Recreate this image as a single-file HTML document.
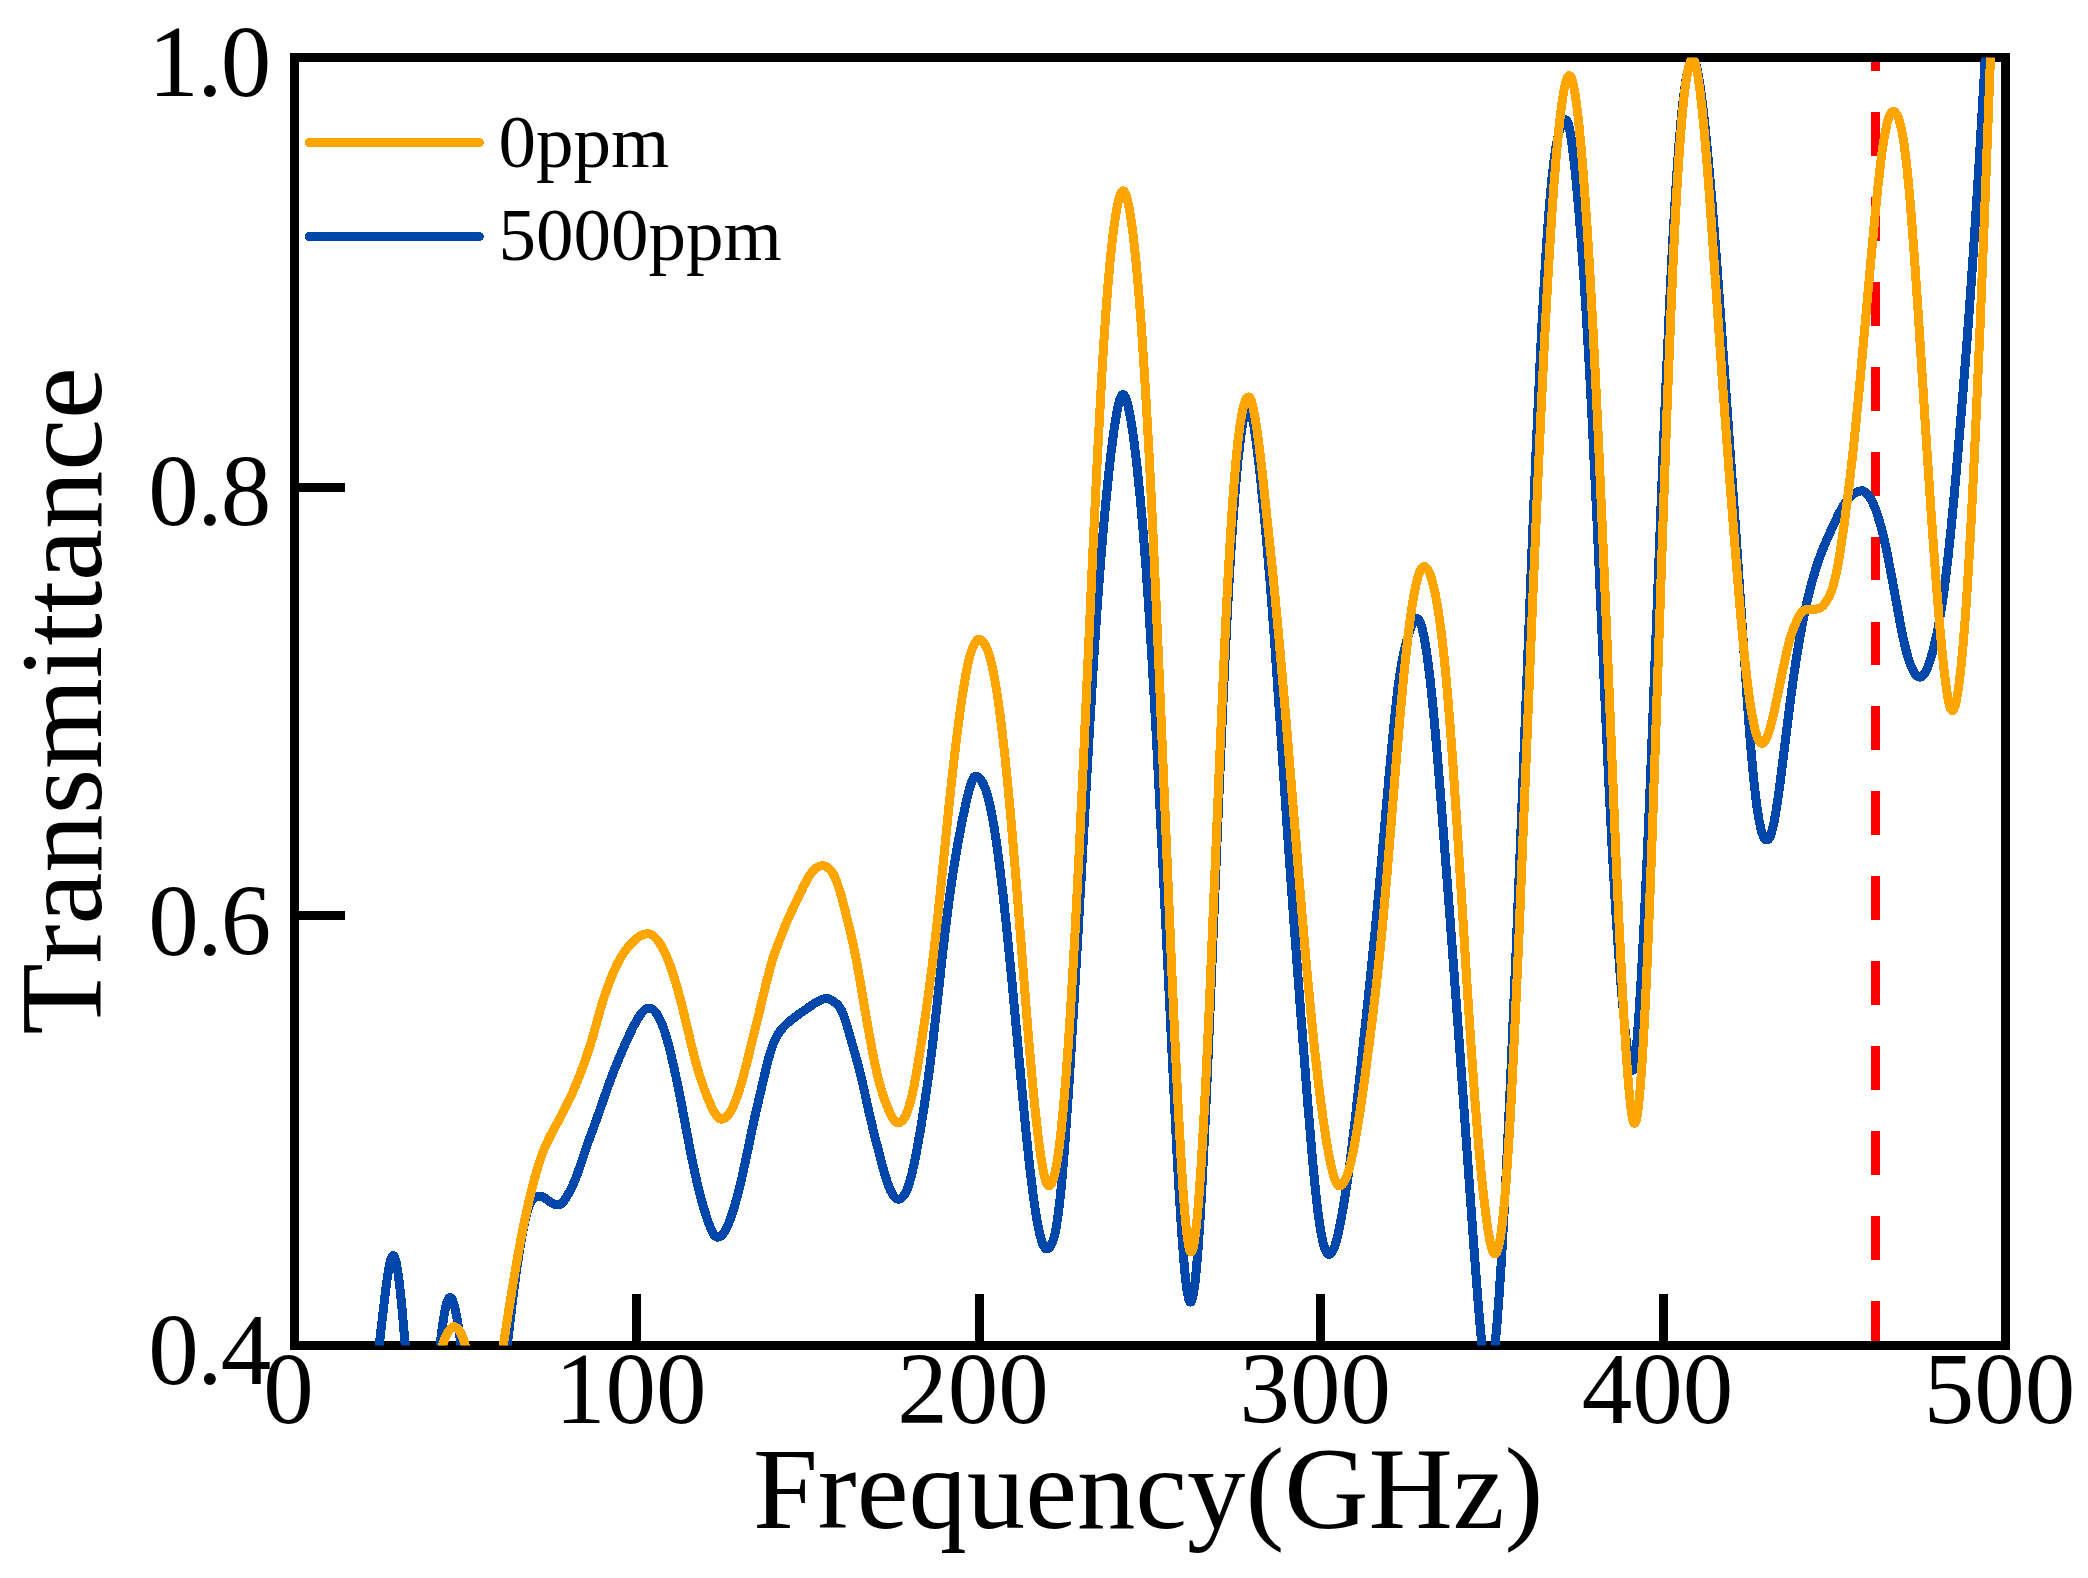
<!DOCTYPE html>
<html lang="en"><head><meta charset="utf-8"><title>Transmittance vs Frequency</title>
<style>html,body{margin:0;padding:0;background:#fff;}body{width:2088px;height:1578px;overflow:hidden;}svg{display:block;}text{font-family:"Liberation Serif","Times New Roman",serif;fill:#000;font-kerning:none;}</style></head><body>
<svg width="2088" height="1578" viewBox="0 0 2088 1578">
<rect x="0" y="0" width="2088" height="1578" fill="#ffffff"/>
<defs><clipPath id="axclip"><rect x="294.5" y="57.5" width="1711.0" height="1288.0"/></clipPath></defs>
<line x1="1875.6" y1="1345" x2="1875.6" y2="27.5" stroke="#ff0000" stroke-width="9" stroke-dasharray="43.9 41.05" shape-rendering="crispEdges" clip-path="url(#axclip)"/>
<rect x="294.5" y="57.5" width="1711.0" height="1288.0" fill="none" stroke="#000" stroke-width="9" shape-rendering="crispEdges"/>
<g stroke="#000" stroke-width="9" shape-rendering="crispEdges">
<line x1="636.5" y1="1345.5" x2="636.5" y2="1294"/>
<line x1="979.5" y1="1345.5" x2="979.5" y2="1294"/>
<line x1="1320.5" y1="1345.5" x2="1320.5" y2="1294"/>
<line x1="1663.5" y1="1345.5" x2="1663.5" y2="1294"/>
<line x1="294.5" y1="915.5" x2="345" y2="915.5"/>
<line x1="294.5" y1="487.5" x2="345" y2="487.5"/>
</g>
<g clip-path="url(#axclip)" fill="none" stroke-linejoin="round" shape-rendering="crispEdges">
<polyline stroke="#0047ab" stroke-width="9" points="370.0,1421.1 377.0,1364.3 384.6,1298.8 387.0,1280.0 388.8,1268.5 390.4,1261.0 391.2,1258.4 392.0,1256.6 392.8,1255.7 393.4,1255.6 394.0,1256.1 394.8,1257.6 395.4,1259.4 396.2,1262.5 397.6,1270.1 399.0,1280.2 400.4,1292.4 402.0,1308.4 409.2,1390.1 411.0,1409.0 412.6,1424.2 414.6,1440.6 416.4,1452.6 418.2,1461.6 419.2,1465.3 420.0,1467.5 421.0,1469.3 421.8,1469.9 422.2,1469.9 422.6,1469.7 423.0,1469.4 423.6,1468.5 424.6,1466.2 425.6,1462.8 426.6,1458.5 427.6,1453.3 429.6,1440.5 431.8,1423.3 434.0,1403.5 439.8,1348.0 441.4,1334.3 443.0,1322.3 444.8,1311.3 445.8,1306.5 446.6,1303.4 447.4,1301.0 448.2,1299.1 449.0,1298.0 449.4,1297.7 450.0,1297.5 450.8,1297.8 451.8,1299.0 452.6,1300.5 453.6,1303.2 455.4,1310.1 457.4,1320.6 459.0,1330.9 460.6,1342.4 467.0,1393.5 469.8,1414.3 472.8,1433.6 474.4,1442.6 475.8,1449.5 477.2,1455.5 478.6,1460.6 480.0,1464.6 481.4,1467.6 482.2,1468.8 482.8,1469.4 483.4,1469.8 484.0,1470.0 484.6,1470.0 485.4,1469.6 486.0,1469.1 486.8,1468.1 488.0,1465.8 489.2,1462.8 490.4,1459.0 491.6,1454.5 494.0,1443.4 496.6,1428.6 499.0,1412.6 501.6,1393.1 504.4,1370.1 512.1,1304.1 514.6,1284.4 517.2,1265.6 520.3,1245.5 523.2,1229.3 524.6,1222.6 526.0,1216.6 527.2,1212.1 528.6,1207.7 529.6,1205.1 530.6,1202.9 531.6,1201.1 532.6,1199.8 533.6,1198.7 534.8,1197.8 536.2,1197.1 538.4,1196.3 539.4,1196.1 540.2,1196.1 541.2,1196.2 542.4,1196.7 544.4,1197.8 549.6,1201.6 552.4,1203.4 554.0,1204.1 555.4,1204.6 556.8,1204.9 558.0,1205.0 559.2,1204.9 560.2,1204.5 561.2,1203.9 562.2,1203.0 564.4,1200.3 567.2,1195.9 569.8,1191.3 572.2,1186.5 574.4,1181.6 576.4,1176.6 579.6,1167.6 587.8,1143.2 596.2,1120.4 608.8,1084.4 614.2,1070.1 620.4,1055.0 625.0,1044.4 629.4,1034.8 633.4,1026.6 636.6,1020.6 639.4,1016.0 642.0,1012.5 644.4,1010.1 645.6,1009.2 646.8,1008.6 648.0,1008.2 649.2,1008.1 650.4,1008.3 651.6,1008.7 652.8,1009.4 654.0,1010.4 655.2,1011.6 656.4,1013.2 658.8,1017.1 661.2,1022.2 663.6,1028.4 666.0,1035.8 668.2,1043.6 670.6,1053.1 673.4,1065.1 676.4,1078.8 681.2,1102.5 688.2,1139.8 691.8,1158.2 695.2,1174.4 698.6,1189.0 701.0,1198.3 703.4,1206.9 705.8,1214.7 708.4,1222.4 710.6,1228.2 712.4,1232.1 714.0,1234.8 714.8,1235.8 715.6,1236.5 716.6,1237.0 717.8,1237.2 719.0,1237.0 720.0,1236.6 721.0,1236.0 722.2,1234.8 723.2,1233.7 724.4,1231.9 726.6,1228.0 729.0,1222.6 731.4,1216.1 734.0,1208.0 737.8,1194.4 741.8,1178.0 745.0,1163.5 754.2,1119.5 766.2,1067.9 768.6,1058.4 770.6,1051.5 772.6,1045.6 774.6,1040.7 776.0,1037.8 777.4,1035.3 779.0,1032.8 780.6,1030.5 782.6,1028.1 784.8,1025.7 787.0,1023.5 789.4,1021.4 795.8,1016.4 814.4,1003.4 817.2,1001.7 819.8,1000.4 822.2,999.4 824.4,998.8 826.0,998.6 827.2,998.5 828.4,998.7 829.6,999.1 832.2,1000.5 836.2,1003.5 838.2,1005.4 840.0,1007.8 841.6,1010.6 843.2,1014.3 845.2,1019.9 847.6,1027.7 855.8,1056.6 859.0,1068.4 862.4,1082.2 869.6,1114.7 874.4,1134.9 882.0,1164.3 884.6,1173.6 886.8,1180.7 888.8,1186.4 890.8,1191.1 892.8,1194.8 893.8,1196.3 894.8,1197.4 895.8,1198.3 896.6,1198.8 897.6,1199.1 898.6,1199.2 899.6,1199.0 900.8,1198.4 901.8,1197.7 902.8,1196.8 904.0,1195.3 905.2,1193.4 906.4,1191.1 907.6,1188.2 909.8,1181.7 912.2,1172.5 914.8,1160.6 917.6,1146.0 920.6,1128.8 923.8,1108.9 928.0,1080.3 931.8,1051.0 935.0,1023.2 943.0,950.0 947.4,913.1 949.6,896.4 951.8,880.9 954.2,865.2 956.6,850.7 959.4,835.2 962.4,819.9 966.0,802.9 968.6,791.9 970.6,784.9 972.4,780.1 973.2,778.5 974.0,777.3 974.8,776.6 975.6,776.3 976.2,776.2 976.8,776.3 978.0,776.9 979.4,778.1 980.8,779.7 982.2,781.9 983.4,784.2 984.6,786.9 985.8,790.1 988.0,797.3 990.2,806.3 992.4,817.3 994.6,830.2 997.2,847.8 1000.0,869.2 1003.0,894.4 1006.0,921.9 1012.0,982.0 1022.2,1092.1 1025.8,1129.7 1029.6,1165.9 1033.2,1195.4 1035.4,1210.8 1037.6,1223.8 1039.8,1234.2 1041.8,1241.4 1042.8,1244.2 1043.8,1246.3 1044.8,1247.8 1045.8,1248.7 1046.8,1249.0 1047.8,1248.7 1049.0,1247.8 1050.2,1246.5 1051.4,1244.6 1052.4,1242.4 1053.4,1239.5 1054.2,1236.8 1056.0,1228.5 1057.8,1217.3 1059.6,1202.9 1061.4,1185.5 1063.2,1165.1 1065.2,1139.5 1069.0,1084.1 1074.0,1002.9 1078.4,926.9 1088.2,752.0 1092.8,674.3 1095.2,636.6 1097.6,601.5 1099.8,571.9 1102.2,542.4 1105.2,508.9 1108.2,478.6 1111.0,453.3 1113.8,431.5 1116.4,414.8 1117.6,408.5 1118.8,403.1 1120.0,399.0 1121.0,396.5 1122.0,395.0 1122.4,394.7 1123.0,394.5 1123.6,394.7 1124.2,395.2 1124.8,396.1 1125.6,397.7 1126.8,401.1 1128.2,406.4 1129.6,413.0 1131.0,420.9 1132.4,429.8 1134.0,441.3 1137.0,466.4 1140.2,498.0 1143.2,532.1 1146.2,570.7 1148.8,608.4 1151.4,649.9 1154.2,698.1 1157.0,749.4 1163.4,875.2 1175.2,1118.2 1177.4,1160.8 1179.4,1196.5 1182.0,1237.2 1184.4,1267.4 1185.6,1279.4 1186.8,1289.1 1188.0,1296.1 1189.0,1300.0 1189.8,1301.6 1190.2,1302.0 1190.5,1302.1 1190.8,1302.0 1191.2,1301.6 1192.0,1299.9 1192.6,1297.7 1193.4,1293.9 1194.2,1288.8 1195.0,1282.6 1196.4,1269.0 1198.0,1249.6 1199.6,1226.4 1201.4,1196.5 1204.4,1138.7 1207.6,1068.9 1219.0,794.1 1223.4,693.6 1225.6,647.4 1227.8,604.7 1229.8,569.4 1231.8,537.5 1233.8,509.1 1236.0,481.7 1238.2,458.4 1240.4,439.2 1242.4,425.5 1243.4,420.0 1244.4,415.6 1245.4,412.1 1246.4,409.7 1247.4,408.3 1248.0,408.0 1248.4,408.1 1249.0,408.5 1249.4,409.0 1250.2,410.5 1251.0,412.8 1252.0,416.5 1253.0,421.3 1254.0,426.9 1256.0,440.2 1258.4,459.5 1261.0,483.1 1264.0,513.0 1266.8,543.1 1270.6,588.3 1274.4,639.1 1277.8,688.2 1287.0,825.5 1292.6,904.6 1300.8,1013.9 1307.8,1103.8 1312.4,1158.4 1314.4,1179.7 1316.2,1197.0 1318.0,1212.4 1319.6,1224.0 1321.2,1233.8 1323.0,1242.3 1324.2,1246.7 1325.4,1250.0 1326.6,1252.4 1327.2,1253.2 1328.0,1253.9 1328.6,1254.2 1329.4,1254.3 1330.2,1254.1 1330.8,1253.6 1331.4,1253.0 1332.2,1251.9 1333.6,1249.1 1335.0,1245.4 1336.4,1240.7 1337.8,1235.1 1339.2,1228.8 1342.8,1209.8 1346.4,1187.8 1348.6,1172.7 1350.6,1157.9 1354.8,1122.9 1360.8,1068.2 1371.2,969.7 1375.4,927.9 1379.4,885.8 1389.2,774.7 1392.2,742.0 1395.2,712.1 1398.0,687.8 1400.0,673.2 1402.2,660.1 1404.6,648.8 1407.2,639.0 1409.0,633.1 1410.6,628.4 1412.0,624.9 1413.4,622.0 1414.8,619.9 1416.0,618.8 1416.6,618.5 1417.2,618.5 1418.2,618.9 1419.2,620.1 1420.0,621.6 1420.8,623.7 1421.8,626.9 1423.8,635.6 1425.8,646.8 1427.8,660.5 1429.8,676.6 1431.8,695.1 1434.0,717.6 1436.8,749.2 1440.2,790.5 1449.6,912.7 1460.2,1055.5 1474.0,1248.5 1478.8,1310.9 1481.8,1344.3 1483.2,1357.3 1484.4,1366.7 1485.6,1374.1 1486.8,1379.2 1487.4,1380.8 1488.0,1381.7 1488.4,1381.9 1489.0,1381.7 1489.8,1380.4 1490.8,1377.1 1491.6,1373.2 1492.6,1367.0 1494.6,1350.2 1496.8,1326.2 1499.0,1297.2 1501.2,1263.6 1503.6,1222.3 1506.0,1176.5 1510.6,1078.8 1516.0,953.0 1521.2,824.2 1531.5,561.6 1535.8,457.0 1540.0,363.9 1542.0,323.7 1544.0,286.9 1546.0,253.6 1548.0,224.3 1550.0,198.9 1552.0,177.6 1554.0,160.3 1556.2,145.5 1557.2,140.1 1558.4,134.7 1559.4,130.9 1560.6,127.1 1562.0,123.8 1563.4,121.5 1564.2,120.6 1565.0,120.0 1565.6,119.8 1566.2,119.9 1566.8,120.5 1567.2,121.2 1568.2,123.7 1569.2,127.5 1570.2,132.5 1571.4,139.9 1572.6,148.7 1575.4,173.6 1578.4,205.5 1581.2,240.1 1583.8,276.6 1586.6,320.4 1589.2,365.2 1592.0,417.7 1597.0,521.1 1605.4,709.5 1608.6,778.5 1612.0,845.8 1615.4,905.2 1617.6,939.2 1620.0,972.4 1622.4,1001.8 1624.6,1025.1 1626.8,1044.8 1628.8,1059.0 1629.8,1064.4 1630.6,1067.7 1631.4,1069.9 1631.8,1070.4 1632.2,1070.6 1632.6,1070.4 1632.8,1070.1 1633.4,1068.6 1634.0,1066.1 1634.6,1062.7 1636.0,1051.2 1637.4,1035.6 1639.0,1013.7 1640.6,988.4 1642.4,956.4 1644.2,921.1 1647.4,851.6 1650.8,770.6 1661.4,496.2 1665.4,397.4 1669.6,303.2 1671.6,262.8 1673.6,225.6 1675.6,192.0 1677.4,164.9 1679.2,141.1 1681.2,118.4 1683.2,99.5 1685.2,84.5 1687.2,73.0 1688.2,68.6 1689.2,65.1 1690.2,62.4 1691.2,60.6 1691.8,59.9 1692.2,59.7 1692.8,59.5 1693.2,59.7 1694.0,60.4 1695.0,62.2 1696.0,65.0 1697.0,68.8 1698.0,73.4 1699.0,78.8 1701.2,93.5 1703.4,111.3 1705.8,133.8 1708.6,163.1 1711.4,195.1 1714.4,232.0 1717.4,271.4 1736.2,537.4 1747.4,702.4 1749.6,732.3 1751.6,756.8 1753.6,778.2 1755.4,794.9 1757.2,808.8 1759.2,821.1 1761.0,829.4 1762.0,832.9 1763.0,835.6 1764.0,837.7 1765.0,839.1 1766.0,839.8 1766.6,840.0 1767.2,840.0 1768.2,839.5 1769.2,838.3 1770.2,836.3 1771.4,833.0 1772.4,829.4 1773.6,824.3 1775.8,812.5 1777.8,799.6 1780.0,783.7 1790.0,703.5 1792.6,683.9 1795.0,667.3 1798.2,647.1 1801.4,629.0 1804.8,611.8 1808.2,596.6 1811.8,582.5 1815.6,569.4 1819.4,558.1 1823.6,547.2 1826.4,540.6 1830.0,532.6 1835.4,520.9 1839.0,513.5 1841.4,509.0 1843.8,505.0 1846.0,501.7 1848.4,498.7 1850.2,496.8 1852.2,495.0 1854.2,493.6 1856.2,492.4 1858.4,491.5 1860.6,490.9 1862.2,490.8 1863.6,491.2 1865.2,492.1 1866.6,493.3 1868.2,495.0 1869.6,497.0 1871.2,499.6 1872.6,502.4 1874.2,506.0 1875.6,509.5 1878.2,517.1 1880.8,526.0 1883.2,535.4 1885.8,546.8 1890.6,570.9 1900.4,624.3 1902.6,635.3 1904.6,644.4 1906.8,653.2 1909.0,660.6 1911.2,666.6 1913.4,671.2 1914.6,673.2 1915.8,674.8 1917.0,675.9 1918.4,676.8 1919.6,677.1 1920.8,677.0 1922.0,676.4 1923.2,675.4 1924.4,673.8 1925.6,671.8 1926.8,669.4 1928.0,666.5 1930.4,659.6 1933.0,650.5 1936.4,636.2 1939.4,620.9 1942.2,603.8 1945.0,583.4 1948.0,557.7 1951.4,525.1 1954.4,493.3 1958.0,452.1 1962.4,399.6 1966.2,351.8 1969.6,306.2 1973.0,257.5 1976.4,205.7 1980.0,147.8 1989.0,-6.1"/>
<polyline stroke="#ffa500" stroke-width="9" points="420.0,1469.1 426.2,1428.4 430.6,1401.3 434.6,1379.1 438.2,1361.8 440.0,1354.3 441.6,1348.4 443.2,1343.2 445.0,1338.3 446.8,1334.3 448.6,1331.2 450.4,1328.9 452.2,1327.3 453.6,1326.7 454.2,1326.7 455.0,1326.9 456.0,1327.4 457.0,1328.1 458.8,1329.9 460.4,1332.3 461.8,1335.0 463.2,1338.6 464.4,1342.3 466.4,1350.1 468.4,1359.9 475.0,1398.4 477.2,1410.3 479.2,1419.3 481.0,1425.4 482.0,1427.8 482.8,1429.1 483.6,1429.9 484.6,1430.3 485.6,1430.0 486.4,1429.3 487.4,1427.7 488.4,1425.6 490.0,1420.8 491.8,1413.9 493.8,1404.5 495.8,1393.6 498.8,1375.2 506.6,1324.1 511.8,1291.3 516.4,1263.8 520.6,1240.7 524.8,1219.8 529.2,1200.0 533.8,1181.4 537.9,1166.8 540.0,1160.3 542.0,1154.7 544.2,1149.0 546.6,1143.5 550.0,1136.5 561.4,1115.4 567.6,1103.2 570.8,1096.5 574.0,1089.3 580.0,1074.7 585.2,1060.6 590.0,1046.0 593.6,1033.9 600.8,1008.0 604.2,997.0 609.2,982.9 611.6,976.7 614.0,970.9 616.6,965.3 619.2,960.3 622.0,955.6 624.8,951.4 628.0,947.3 631.6,943.1 634.8,940.0 638.0,937.4 640.0,936.0 641.8,935.1 643.8,934.3 645.6,933.9 647.2,933.7 648.8,933.8 650.2,934.2 651.8,935.0 653.4,936.0 655.0,937.4 656.6,939.0 658.2,941.0 659.8,943.3 661.4,945.9 664.8,952.4 667.8,959.3 670.8,967.3 673.8,976.3 676.8,986.3 679.6,996.4 682.4,1007.3 691.8,1046.6 695.4,1060.9 698.8,1072.9 703.0,1085.6 706.4,1094.7 709.8,1103.0 712.8,1109.5 715.2,1113.8 717.4,1116.8 718.4,1117.8 719.4,1118.5 720.4,1119.0 721.4,1119.1 722.6,1119.1 723.8,1118.8 725.6,1117.7 727.4,1116.0 729.2,1113.7 731.2,1110.3 733.2,1106.3 735.2,1101.6 737.2,1096.3 739.4,1089.7 742.8,1078.3 746.6,1063.8 756.8,1022.5 766.2,983.2 770.6,966.3 773.0,958.2 775.6,950.5 785.4,925.2 790.2,914.3 803.8,885.8 807.4,879.0 809.2,876.0 810.8,873.7 813.0,871.0 815.2,868.8 817.4,867.1 819.4,866.2 821.4,865.7 823.4,865.7 825.6,866.4 827.8,867.6 829.2,868.7 830.4,869.9 831.6,871.4 832.8,873.2 835.0,877.4 837.2,882.9 839.4,889.5 842.0,898.5 845.0,910.0 849.0,926.1 853.2,944.4 856.6,961.4 859.6,978.2 867.8,1026.5 873.0,1054.4 875.2,1065.1 877.4,1074.9 879.4,1082.8 881.6,1090.5 884.8,1100.2 888.2,1108.8 891.4,1115.7 892.8,1118.2 894.2,1120.2 895.4,1121.4 896.6,1122.3 897.6,1122.7 898.8,1122.7 900.0,1122.3 901.4,1121.4 902.6,1120.3 903.8,1118.7 905.2,1116.4 906.4,1113.8 907.8,1110.3 909.0,1106.7 911.6,1097.1 914.2,1085.2 916.8,1071.1 920.0,1051.6 924.2,1023.9 928.2,996.0 932.4,964.0 936.4,929.4 940.4,891.4 948.8,807.6 953.4,765.2 956.0,743.1 958.4,724.1 960.8,706.4 963.0,691.4 965.0,679.2 966.8,669.5 968.6,661.2 970.4,654.3 972.2,648.8 974.2,644.2 975.2,642.5 976.2,641.1 977.2,640.1 978.2,639.5 978.8,639.4 979.5,639.3 980.8,639.8 982.4,641.0 984.0,643.0 985.4,645.3 986.8,648.3 988.2,651.9 989.4,655.6 990.8,660.7 992.0,665.6 994.4,677.4 996.8,691.6 999.4,709.6 1002.0,730.2 1004.8,755.1 1007.6,782.7 1010.4,812.7 1016.2,881.1 1025.6,1001.0 1029.0,1042.9 1032.8,1085.8 1036.2,1119.5 1038.4,1138.5 1040.4,1153.5 1042.4,1166.2 1044.4,1176.2 1045.4,1180.0 1046.2,1182.4 1047.0,1184.2 1047.8,1185.4 1048.6,1185.9 1049.0,1186.0 1049.6,1185.9 1050.4,1185.2 1051.4,1183.8 1052.6,1181.1 1053.8,1177.4 1055.0,1172.6 1056.2,1166.8 1057.4,1159.8 1058.6,1151.6 1060.8,1133.6 1063.2,1109.5 1065.6,1081.3 1068.0,1048.9 1070.6,1009.6 1074.8,937.2 1079.2,851.0 1083.4,761.4 1093.0,548.5 1097.6,452.9 1101.8,375.5 1103.8,342.9 1105.8,313.5 1108.0,284.8 1110.0,262.3 1112.2,241.2 1114.4,223.8 1116.6,209.9 1117.8,203.7 1118.8,199.4 1120.0,195.4 1121.0,192.9 1122.0,191.4 1122.6,190.9 1123.0,190.8 1123.6,190.9 1124.2,191.4 1124.8,192.2 1125.4,193.4 1126.6,196.7 1128.0,202.1 1129.2,208.1 1130.6,216.4 1132.0,226.1 1133.4,237.2 1136.0,261.5 1138.8,293.0 1141.6,330.0 1144.2,369.9 1146.6,409.1 1149.0,452.8 1151.4,500.2 1153.8,550.8 1158.6,659.5 1171.4,962.1 1175.0,1041.9 1178.2,1107.4 1181.4,1164.9 1183.0,1189.6 1184.4,1208.4 1185.8,1224.2 1187.0,1235.1 1188.4,1244.6 1189.0,1247.5 1189.6,1249.7 1190.4,1251.5 1191.0,1252.0 1191.4,1251.9 1191.8,1251.5 1192.6,1249.7 1193.4,1246.7 1194.2,1242.5 1195.8,1230.9 1197.4,1215.2 1199.2,1193.2 1201.0,1167.2 1202.8,1137.7 1205.8,1081.3 1209.2,1008.4 1220.4,741.1 1224.6,646.4 1226.6,605.1 1228.6,567.2 1230.4,536.2 1232.2,508.4 1234.0,483.9 1236.0,460.4 1238.0,440.8 1240.0,425.1 1242.0,413.1 1243.0,408.5 1244.0,404.7 1245.0,401.7 1246.2,399.0 1246.8,398.1 1247.4,397.4 1248.0,397.1 1248.4,397.0 1249.2,397.3 1250.0,398.2 1250.6,399.3 1251.4,401.2 1253.0,407.0 1254.8,415.9 1256.6,427.1 1258.4,440.2 1260.4,456.5 1262.8,477.7 1272.2,567.3 1275.8,604.3 1279.4,643.3 1286.8,728.8 1298.8,875.4 1303.4,930.2 1308.2,984.2 1312.4,1027.8 1315.2,1054.5 1318.0,1079.2 1320.8,1101.9 1323.4,1121.1 1326.2,1139.5 1328.8,1154.5 1331.2,1166.2 1333.6,1175.7 1335.2,1180.6 1336.6,1183.6 1337.2,1184.5 1338.0,1185.4 1338.6,1185.8 1339.3,1186.0 1340.2,1185.9 1341.0,1185.5 1342.0,1184.7 1342.8,1183.9 1344.6,1181.2 1346.4,1177.3 1348.0,1172.8 1349.6,1167.3 1351.2,1160.8 1352.8,1153.4 1354.6,1144.1 1356.6,1132.8 1360.4,1109.0 1365.4,1073.5 1371.2,1028.4 1376.2,986.6 1380.2,949.4 1383.2,918.1 1386.6,879.5 1396.8,754.5 1400.6,710.0 1404.4,669.5 1408.0,636.3 1410.2,618.9 1412.4,603.9 1414.6,591.3 1416.6,582.0 1417.8,577.5 1418.8,574.3 1419.8,571.6 1420.8,569.5 1421.8,568.0 1422.8,567.0 1423.8,566.5 1424.4,566.5 1425.0,566.7 1426.2,567.6 1427.6,569.4 1428.8,571.5 1430.0,574.2 1431.4,578.2 1432.6,582.3 1435.0,592.5 1437.4,605.4 1439.6,619.8 1442.0,638.3 1444.2,658.2 1446.2,678.7 1448.4,704.1 1450.6,732.1 1452.8,762.3 1457.4,831.0 1466.8,980.8 1470.6,1039.1 1474.6,1095.5 1478.4,1142.7 1481.0,1171.0 1483.4,1194.2 1485.8,1214.3 1488.0,1229.9 1490.0,1241.2 1491.0,1245.8 1492.0,1249.4 1493.0,1252.0 1493.8,1253.3 1494.2,1253.7 1494.8,1253.9 1495.4,1253.8 1495.8,1253.5 1496.8,1252.0 1497.8,1249.4 1498.8,1245.6 1499.8,1240.7 1500.8,1234.6 1501.8,1227.3 1503.6,1211.0 1505.4,1190.8 1507.4,1163.7 1509.4,1132.2 1511.4,1096.7 1514.8,1028.7 1518.6,943.9 1532.2,612.1 1538.0,477.6 1541.0,412.6 1544.0,351.4 1546.8,298.2 1549.4,253.0 1551.8,215.3 1554.0,184.3 1556.2,156.9 1558.4,133.1 1560.6,113.1 1562.8,97.1 1564.0,90.1 1565.0,85.3 1566.0,81.4 1567.0,78.5 1567.6,77.2 1568.2,76.3 1568.8,75.8 1569.4,75.6 1569.8,75.8 1570.4,76.3 1571.0,77.2 1571.6,78.6 1572.8,82.5 1574.0,87.9 1575.2,94.7 1576.4,103.0 1577.6,112.5 1579.0,125.2 1581.6,152.9 1584.4,188.2 1587.2,228.8 1589.8,271.0 1592.6,321.1 1595.4,375.8 1598.2,434.6 1603.6,557.6 1615.8,851.8 1619.0,922.7 1622.0,982.9 1623.8,1015.4 1625.6,1044.7 1627.4,1070.4 1629.0,1089.8 1630.6,1105.5 1632.0,1115.6 1632.8,1119.5 1633.4,1121.6 1634.0,1122.9 1634.6,1123.3 1635.2,1122.9 1636.0,1121.0 1636.6,1118.6 1637.4,1114.2 1638.8,1103.2 1640.2,1088.2 1641.6,1069.5 1643.2,1043.9 1644.8,1014.3 1646.6,976.5 1649.4,910.0 1652.6,825.0 1663.2,516.1 1667.2,405.0 1671.2,305.4 1673.2,261.0 1675.0,224.7 1676.8,191.8 1678.6,162.6 1680.4,137.1 1682.2,115.4 1684.0,97.3 1685.8,82.8 1687.6,71.8 1688.6,67.2 1689.6,63.6 1690.6,61.0 1691.4,59.7 1692.2,59.1 1692.6,59.0 1693.0,59.2 1693.8,60.1 1694.6,61.7 1695.4,64.1 1696.4,68.2 1698.2,78.1 1700.0,91.1 1702.0,108.6 1704.0,128.9 1707.0,163.8 1710.2,205.5 1722.6,384.2 1729.4,476.0 1734.8,544.4 1739.2,598.2 1742.6,636.7 1745.4,665.0 1747.6,684.3 1749.6,699.6 1751.6,712.5 1753.8,724.1 1756.0,733.1 1757.0,736.4 1758.0,739.0 1759.0,741.0 1760.0,742.4 1761.0,743.2 1761.6,743.4 1762.2,743.4 1763.2,743.0 1764.2,742.1 1765.2,740.7 1766.2,738.9 1768.2,734.1 1770.4,727.0 1772.4,719.3 1774.8,708.8 1784.0,664.1 1787.6,647.9 1789.4,640.9 1791.2,635.0 1793.2,629.3 1795.6,623.4 1798.0,618.1 1799.8,614.8 1801.6,612.4 1802.6,611.4 1803.6,610.6 1805.2,609.8 1807.0,609.4 1808.6,609.2 1814.6,609.2 1816.6,609.0 1818.4,608.6 1820.0,608.0 1821.6,607.0 1823.0,605.7 1824.4,604.1 1826.4,601.2 1828.4,597.8 1830.0,594.6 1831.4,591.1 1832.8,587.0 1834.0,582.8 1836.6,571.6 1838.4,562.2 1840.2,551.5 1844.2,524.2 1848.8,488.5 1853.0,451.7 1856.2,420.7 1859.8,383.2 1871.0,259.1 1874.8,218.2 1877.8,188.2 1880.6,163.3 1882.2,150.8 1883.6,141.3 1885.0,133.1 1886.6,125.3 1888.0,119.9 1889.6,115.4 1890.4,113.8 1891.2,112.6 1892.0,111.8 1892.8,111.4 1893.8,111.5 1894.8,112.0 1895.8,113.1 1896.8,114.6 1897.8,116.5 1898.8,119.1 1900.6,125.3 1902.4,133.8 1904.0,143.5 1905.6,155.6 1907.2,169.9 1908.8,186.3 1910.6,207.0 1914.2,254.2 1918.0,310.1 1927.2,453.6 1931.6,519.5 1936.0,580.1 1940.2,631.0 1942.4,654.3 1944.4,673.0 1946.4,688.6 1948.2,699.7 1949.2,704.3 1950.0,707.1 1950.8,709.1 1951.6,710.2 1952.0,710.5 1952.4,710.5 1952.8,710.4 1953.2,710.0 1954.0,708.7 1955.0,706.1 1955.8,703.1 1956.8,698.3 1957.8,692.5 1958.8,685.7 1960.8,669.1 1962.8,648.6 1964.8,624.1 1966.8,595.6 1968.8,563.4 1970.8,527.7 1973.0,484.8 1975.2,438.6 1980.0,328.5 1985.2,197.7 1992.0,16.6"/>
</g>
<g fill="none" stroke-width="9.4" stroke-linecap="round" shape-rendering="crispEdges">
<line x1="309.7" y1="142.5" x2="479.1" y2="142.5" stroke="#ffa500"/>
<line x1="309.7" y1="236.5" x2="479.1" y2="236.5" stroke="#0047ab"/>
</g>
<text x="498.6" y="166.5" font-size="75">0ppm</text>
<text x="498.6" y="260.3" font-size="75">5000ppm</text>
<text x="269.5" y="95.8" font-size="101" text-anchor="end" letter-spacing="-1.7">1.0</text>
<text x="269.5" y="525.1" font-size="101" text-anchor="end" letter-spacing="-1.7">0.8</text>
<text x="269.5" y="954.5" font-size="101" text-anchor="end" letter-spacing="-1.7">0.6</text>
<text x="269.5" y="1383.8" font-size="101" text-anchor="end" letter-spacing="-1.7">0.4</text>
<text x="288.6" y="1422.7" font-size="101" text-anchor="middle">0</text>
<text x="630.8" y="1422.7" font-size="101" text-anchor="middle">100</text>
<text x="973.0" y="1422.7" font-size="101" text-anchor="middle">200</text>
<text x="1315.2" y="1422.7" font-size="101" text-anchor="middle">300</text>
<text x="1657.4" y="1422.7" font-size="101" text-anchor="middle">400</text>
<text x="1999.6" y="1422.7" font-size="101" text-anchor="middle">500</text>
<text x="1148.2" y="1528.2" font-size="116.7" text-anchor="middle">Frequency(GHz)</text>
<text transform="translate(101.2,700.9) rotate(-90)" font-size="116.7" text-anchor="middle">Transmittance</text>
</svg></body></html>
